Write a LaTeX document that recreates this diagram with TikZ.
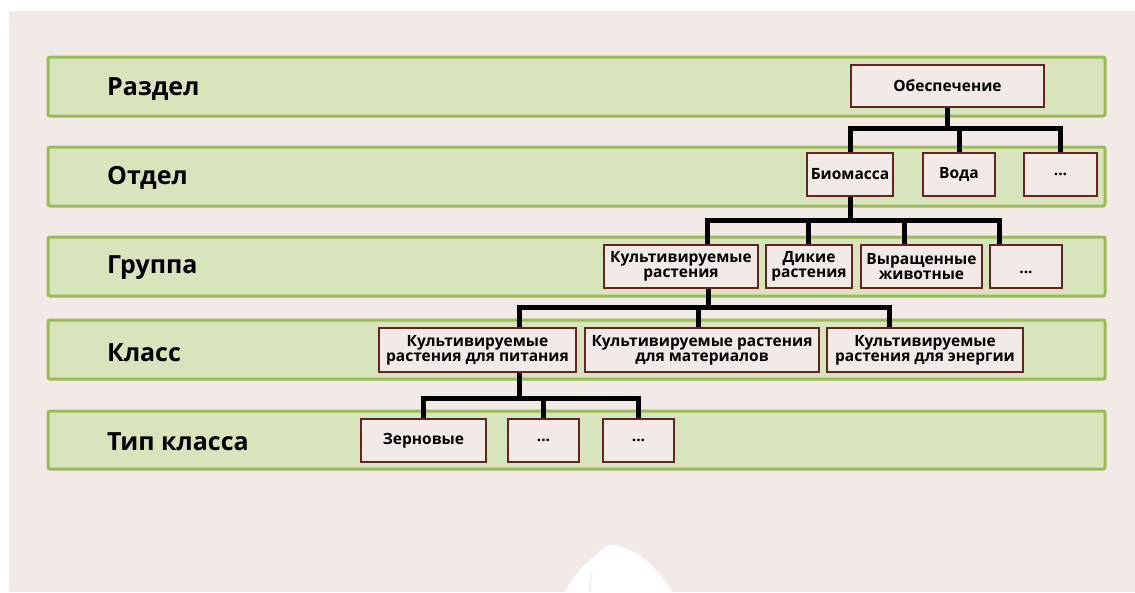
\documentclass[tikz,border=0pt]{standalone}
\usepackage{fontspec}
\setmainfont{Open Sans}
\usetikzlibrary{calc}

\definecolor{pagebg}{HTML}{F2EAE7}
\definecolor{bandfill}{HTML}{D8E4BC}
\definecolor{bandline}{HTML}{9BBB59}
\definecolor{boxline}{HTML}{632523}

\tikzset{
  band/.style={draw=bandline, fill=bandfill, line width=3pt, rounded corners=2pt},
  levellabel/.style={anchor=base west, inner sep=0pt, font=\fontsize{25}{28}\selectfont\bfseries},
  catbox/.style={draw=boxline, fill=pagebg, line width=2pt, inner sep=0pt,
    align=center, font=\fontsize{15.5}{15}\selectfont\bfseries},
  conn/.style={draw=black, line width=5pt, line join=miter}
}

% box with corners (x1,y1) and (x2,y2) in px
\newcommand{\catnode}[6]{%
  \node[catbox, minimum width={#4-#2}, minimum height={#5-#3}] (#1)
    at ({(#2+#4)/2},{(#3+#5)/2}) {#6};}

\begin{document}
\begin{tikzpicture}[x=1pt, y=-1pt]
  \useasboundingbox (0,0) rectangle (1135,592);
  \fill[white] (0,0) rectangle (1135,592);
  \fill[pagebg] (9,11) rectangle (1135,592);

  % leaf mark at the bottom
  \fill[white] (591,592) .. controls (591,575) and (593,562) .. (597,556)
    .. controls (601,548) and (606,545) .. (611,545)
    .. controls (635,546) and (660,570) .. (672,592) -- cycle;
  \fill[white] (565,592) .. controls (573,576) and (585,563) .. (598,554)
    .. controls (593,563) and (590,575) .. (589,592) -- cycle;

  % level bands
  \draw[band] (48,57) rectangle (1105,116);
  \draw[band] (48,147) rectangle (1105,206);
  \draw[band] (48,237) rectangle (1105,296);
  \draw[band] (48,320) rectangle (1105,379);
  \draw[band] (48,411) rectangle (1105,469);

  \node[levellabel] (l1) at (107,95) {Раздел};
  \node[levellabel] (l2) at (107,184) {Отдел};
  \node[levellabel] (l3) at (107,273) {Группа};
  \node[levellabel] (l4) at (107,361) {Класс};
  \node[levellabel] (l5) at (107,450) {Тип класса};

  % category boxes
  \catnode{obesp}{851}{65}{1044}{107}{Обеспечение}
  \catnode{bio}{807}{153}{893}{196}{Биомасса}
  \catnode{voda}{923}{153}{995}{196}{Вода}
  \catnode{dots1}{1024}{153}{1097}{196}{...}

  \catnode{kult}{604}{245}{758}{288}{Культивируемые\\растения}
  \catnode{dikie}{766}{245}{852}{288}{Дикие\\растения}
  \catnode{zhiv}{861}{245}{982}{288}{Выращенные\\животные}
  \catnode{dots2}{990}{245}{1062}{288}{\\...}

  \catnode{pit}{379}{328}{576}{372}{Культивируемые\\растения для питания}
  \catnode{mat}{585}{328}{819}{372}{Культивируемые растения\\для материалов}
  \catnode{energ}{827}{328}{1023}{372}{Культивируемые\\растения для энергии}

  \catnode{zern}{361}{419}{486}{462}{Зерновые}
  \catnode{dots4}{508}{419}{579}{462}{...}
  \catnode{dots5}{603}{419}{674}{462}{...}

  % connectors
  \draw[conn] (obesp.south) -- (obesp.south |- 0,128);
  \draw[conn] (bio.north) |- (dots1.north |- 0,128) -- (dots1.north);
  \draw[conn] (voda.north) -- (voda.north |- 0,128);

  \draw[conn] (bio.south) -- (bio.south |- 0,220);
  \draw[conn] (kult.north -| 707,0) |- (999,220) -- (dots2.north -| 999,0);
  \draw[conn] (dikie.north -| 808,0) -- (808,220);
  \draw[conn] (zhiv.north -| 904,0) -- (904,220);

  \draw[conn] (kult.south -| 708,0) -- (708,307);
  \draw[conn] (pit.north -| 519,0) |- (889,307) -- (energ.north -| 889,0);
  \draw[conn] (mat.north -| 698,0) -- (698,307);

  \draw[conn] (pit.south -| 519,0) -- (519,398);
  \draw[conn] (zern.north) |- (dots5.north |- 0,398) -- (dots5.north);
  \draw[conn] (dots4.north) -- (dots4.north |- 0,398);
\end{tikzpicture}
\end{document}
